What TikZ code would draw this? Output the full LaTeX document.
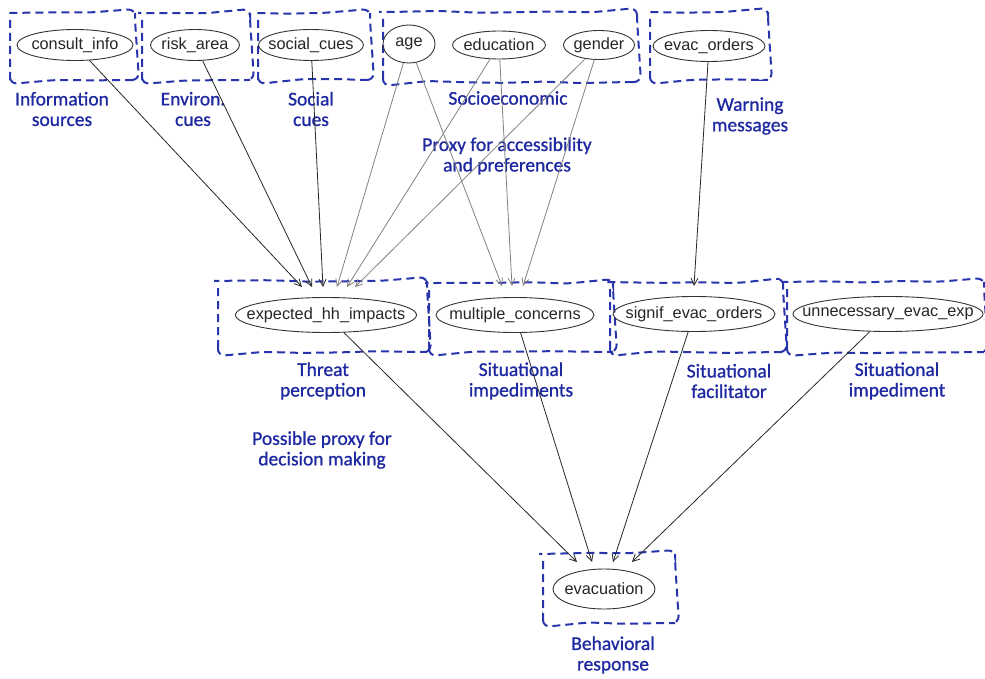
\documentclass[tikz,border=0pt]{standalone}
\usepackage{fontspec}
\setmainfont{Liberation Sans}
\newfontfamily\labelfont[FakeBold=0.9]{Carlito}
\usetikzlibrary{arrows.meta,shapes.geometric,decorations.pathmorphing}
\definecolor{clusterblue}{RGB}{40,52,172}
\definecolor{labelblue}{RGB}{30,40,160}
% zero-width label, so the ellipse size comes only from minimum width/height
\newcommand\vlabel[1]{\makebox[0pt]{#1}}

\begin{document}
\begin{tikzpicture}[x=1pt,y=-1pt,
  var/.style={ellipse, draw=black!80, line width=0.9pt, inner sep=0pt,
    minimum height=31pt, text=black!85, font=\fontsize{16.3}{17}\selectfont},
  clusterbox/.style={draw=clusterblue, line width=2pt, dash pattern=on 8pt off 5pt,
    decoration={random steps, segment length=38pt, amplitude=1.2pt},
    decorate, rounded corners=7pt},
  grp/.style={text=labelblue, align=center,
    font=\labelfont\fontsize{19.5}{20.5}\selectfont},
  link/.style={black!85, line width=0.8pt, -{Straight Barb[length=7pt,width=7pt]}},
  glink/.style={black!50, line width=0.8pt, -{Straight Barb[length=7pt,width=7pt]}}]

\useasboundingbox (0,0) rectangle (985,679);
\pgfmathsetseed{11}

% cluster frames
\draw[clusterbox] (10,13) rectangle (135,80);
\draw[clusterbox] (142,13) rectangle (250,80);
\draw[clusterbox] (258,13) rectangle (370,80);
\draw[clusterbox] (383,12) rectangle (637,82);
\draw[clusterbox] (650,12) rectangle (768,80);
\draw[clusterbox] (218,281) rectangle (427,352);
\draw[clusterbox] (429,283) rectangle (613,352);
\draw[clusterbox] (610,282) rectangle (783,352);
\draw[clusterbox] (787,282) rectangle (984,352);
\draw[clusterbox] (543,554) rectangle (675,623);

% variables
\node[var, minimum width=116pt] (consult) at (75,45) {\vlabel{consult\_info}};
\node[var, minimum width=89pt] (risk) at (195,45) {\vlabel{risk\_area}};
\node[var, minimum width=105pt] (social) at (311,45) {\vlabel{social\_cues}};
\node[var, minimum width=52pt, minimum height=38pt] (age) at (409,44) {\vlabel{age}};
\node[var, minimum width=93pt, minimum height=28pt] (edu) at (499,45) {\vlabel{education}};
\node[var, minimum width=71pt, minimum height=29pt] (gender) at (599,45) {\vlabel{gender}};
\node[var, minimum width=112pt] (orders) at (709,46) {\vlabel{evac\_orders}};
\node[var, minimum width=181pt, minimum height=35pt] (impacts) at (326,315) {\vlabel{expected\_hh\_impacts}};
\node[var, minimum width=158pt, minimum height=35pt] (concerns) at (515,315) {\vlabel{multiple\_concerns}};
\node[var, minimum width=162pt, minimum height=35pt] (signif) at (694,314) {\vlabel{signif\_evac\_orders}};
\node[var, minimum width=190pt, minimum height=35pt] (unnec) at (888,314) {\vlabel{unnecessary\_evac\_exp}};
\node[var, minimum width=102pt, minimum height=40pt] (evac) at (604,589) {\vlabel{evacuation}};

% group labels
\node[grp] (lInfo) at (62,109) {Information\\sources};
\node[grp] (lEnv) at (193,109) {Environ.\\cues};
\node[grp] (lSoc) at (311,109) {Social\\cues};
\node[grp] (lSes) at (508,98) {Socioeconomic};
\node[grp] (lProxy) at (507,156) {Proxy for accessibility\\and preferences};
\node[grp] (lWarn) at (750,116) {Warning\\messages};
\node[grp] (lThreat) at (323,381) {Threat\\perception};
\node[grp] (lImps) at (521,381) {Situational\\impediments};
\node[grp] (lFac) at (729,381) {Situational\\facilitator};
\node[grp] (lImp) at (897,381) {Situational\\impediment};
\node[grp] (lDec) at (322,450) {Possible proxy for\\decision making};
\node[grp] (lResp) at (613,655) {Behavioral\\response};

% arrow tips on the cluster frames
\coordinate (i1) at (302,287);
\coordinate (i2) at (312,287);
\coordinate (i3) at (323,287);
\coordinate (i4) at (337,287);
\coordinate (i5) at (347,287);
\coordinate (i6) at (355,287);
\coordinate (m1) at (502,286);
\coordinate (m2) at (512,286);
\coordinate (m3) at (523,286);
\coordinate (s1) at (694,286);
\coordinate (e1) at (577,562);
\coordinate (e2) at (592,562);
\coordinate (e3) at (613,562);
\coordinate (e4) at (632,562);

% dependencies
\draw[link] (consult) -- (i1);
\draw[link] (risk) -- (i2);
\draw[link] (social) -- (i3);
\draw[glink] (age) -- (i4);
\draw[glink] (edu) -- (i5);
\draw[glink] (gender) -- (i6);
\draw[glink] (age) -- (m1);
\draw[glink] (edu) -- (m2);
\draw[glink] (gender) -- (m3);
\draw[link] (orders) -- (s1);
\draw[link] (impacts) -- (e1);
\draw[link] (concerns) -- (e2);
\draw[link] (signif) -- (e3);
\draw[link] (unnec) -- (e4);
\end{tikzpicture}
\end{document}
